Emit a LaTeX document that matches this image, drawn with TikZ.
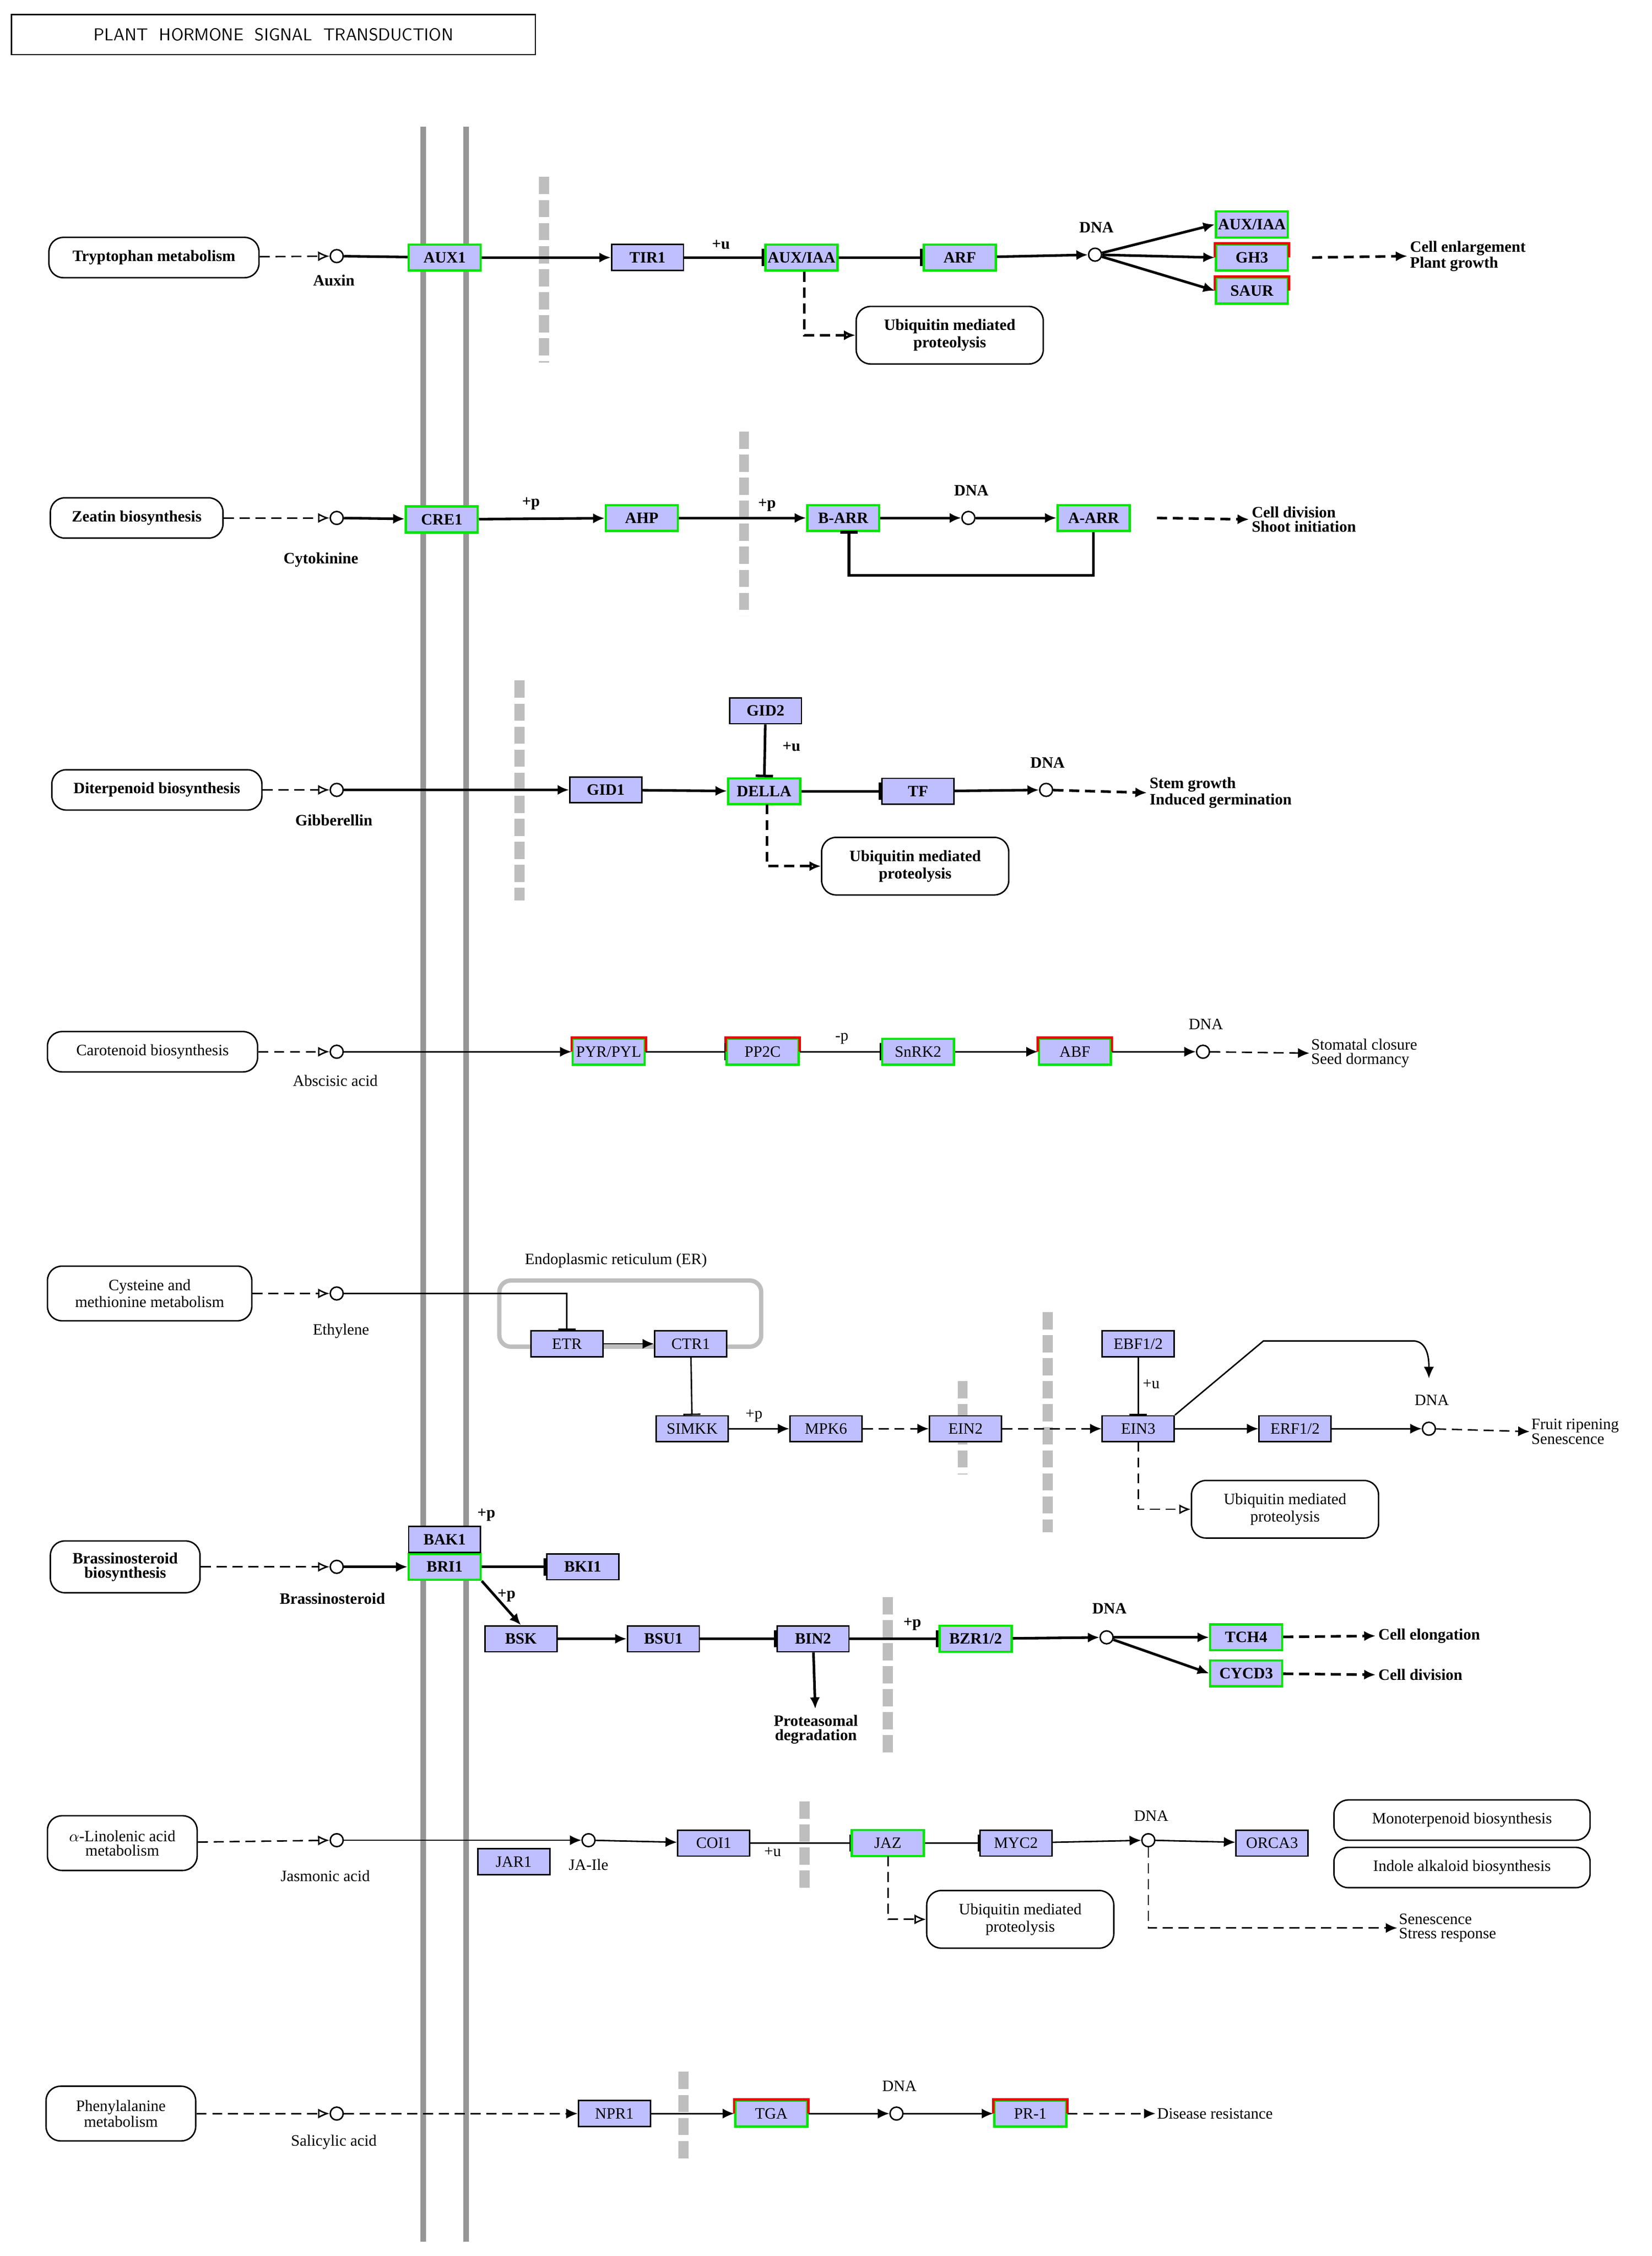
\documentclass[tikz,border=0pt]{standalone}
\usepackage{fontspec}
\setmainfont{Liberation Serif}
\usetikzlibrary{arrows.meta}
\definecolor{gbl}{RGB}{191,191,255}
\definecolor{kgreen}{RGB}{0,230,0}
\definecolor{kred}{RGB}{240,0,0}
\definecolor{mem}{RGB}{150,150,150}
\definecolor{gbar}{RGB}{190,190,190}
\newcommand\myredtop[1]{\draw[kred,line width=1.6] (#1.west)--(#1.north west)--(#1.north east)--(#1.east);}
\begin{document}
\begin{tikzpicture}[x=1pt,y=-1pt,
  every node/.style={font=\fontsize{11}{12}\selectfont},
  gene/.style={draw=black,fill=gbl,minimum width=50,minimum height=18,inner sep=1,line width=1},
  gr/.style={gene,draw=kgreen,line width=1.6},
  rd/.style={gr},
  B/.style={font=\fontsize{11}{12}\selectfont\bfseries},
  map/.style={draw,rounded corners=10,minimum height=28,align=center,inner sep=3,line width=1},
  cpd/.style={circle,draw,minimum size=9,inner sep=0,line width=1},
  lab/.style={inner sep=1},
  txt/.style={align=left,anchor=west,inner sep=1,font=\fontsize{11}{10}\selectfont},
  txtb/.style={txt,font=\fontsize{11}{10}\selectfont\bfseries},
  ds/.style={dash pattern=on 7 off 4},
  ac/.style={-{Latex[length=8,width=7]},line width=1},
  hl/.style={ds,-{Latex[open,length=8,width=7]},line width=1},
  inh/.style={-{Bar[width=12]},line width=1},
  th/.style={line width=1.8},
  gbarS/.style={draw=gbar,line width=7,dash pattern=on 12 off 4}
]
\useasboundingbox[fill=white] (0,0) rectangle (1148,1568);
\node[draw,line width=1,minimum width=364,minimum height=28,font=\sffamily\fontsize{12}{12}\selectfont] (title) at (190,24) {PLANT\ \ HORMONE\ \ SIGNAL\ \ TRANSDUCTION};
% membrane
\draw[mem,line width=4] (294,88) -- (294,1558);
\draw[mem,line width=4] (324,88) -- (324,1558);
% grey bars
\draw[gbarS] (378,123) -- (378,252);
\draw[gbarS] (517,300) -- (517,428);
\draw[gbarS] (361,473) -- (361,626);
\draw[gbarS] (669,960) -- (669,1025);
\draw[gbarS] (728,912) -- (728,1065);
\draw[gbarS] (617,1110) -- (617,1218);
\draw[gbarS] (559,1252) -- (559,1315);
\draw[gbarS] (475,1440) -- (475,1500);

% ---------- Row 1 auxin
\begin{scope}[th,every node/.append style={B}]
\node[map,minimum width=146] (trp) at (107,179) {Tryptophan metabolism};
\node[cpd] (aux) at (234,178) {};
\node[lab] at (232,195) {Auxin};
\node[gr] (aux1) at (309,179) {AUX1};
\node[gene] (tir1) at (450,179) {TIR1};
\node[gr] (iaa) at (557,179) {AUX/IAA};
\node[gr] (arf) at (667,179) {ARF};
\node[cpd] (dna1) at (761,177) {};
\node[lab] at (762,158) {DNA};
\node[gr] (iaa2) at (870,156) {AUX/IAA};
\node[rd] (gh3) at (870,179) {GH3};
\node[rd] (saur) at (870,202) {SAUR};
\myredtop{gh3}\myredtop{saur}
\node[txtb] (out1) at (978,178) {Cell enlargement\\Plant growth};
\node[map,minimum width=130,minimum height=40] (ub1) at (660,233) {Ubiquitin mediated\\proteolysis};
\node[lab] at (501,170) {+u};
\draw[hl] (trp) -- (aux);
\draw (aux) -- (aux1);
\draw[ac,th] (aux1) -- (tir1);
\draw[inh,th] (tir1) -- (iaa);
\draw[inh,th] (iaa) -- (arf);
\draw[ac,th] (arf) -- (dna1);
\draw[ac,th] (dna1) -- (iaa2.west);
\draw[ac,th] (dna1) -- (gh3.west);
\draw[ac,th] (dna1) -- (saur.west);
\draw[ac,th,ds] (gh3.east)+(16,0) -- (out1.west);
\draw[hl,th] (iaa.south) ++(2,0) |- (ub1.west);
\end{scope}

% ---------- Row 2 cytokinin
\begin{scope}[th,every node/.append style={B}]
\node[map,minimum width=120] (zea) at (95,360) {Zeatin biosynthesis};
\node[cpd] (cyt) at (234,360) {};
\node[lab] at (223,389) {Cytokinine};
\node[gr] (cre1) at (307,361) {CRE1};
\node[gr] (ahp) at (446,360) {AHP};
\node[gr] (barr) at (586,360) {B-ARR};
\node[cpd] (dna2) at (673,360) {};
\node[lab] at (675,341) {DNA};
\node[gr] (aarr) at (760,360) {A-ARR};
\node[txtb] (out2) at (868,361) {Cell division\\Shoot initiation};
\node[lab] at (369,350) {+p};
\node[lab] at (533,351) {+p};
\draw[hl] (zea) -- (cyt);
\draw[ac,th] (cyt) -- (cre1);
\draw[ac,th] (cre1) -- (ahp);
\draw[ac,th] (ahp) -- (barr);
\draw[ac,th] (barr) -- (dna2);
\draw[ac,th] (dna2) -- (aarr);
\draw[th,-{Bar[width=12]}] (aarr.south) -- (760,400) -- (590,400) -- (590,369);
\draw[ac,th,ds] (804,360) -- (out2.west);
\end{scope}

% ---------- Row 3 gibberellin
\begin{scope}[th,every node/.append style={B}]
\node[map,minimum width=146] (dit) at (109,549) {Diterpenoid biosynthesis};
\node[cpd] (gib) at (234,549) {};
\node[lab] at (232,570) {Gibberellin};
\node[gene] (gid1) at (421,549) {GID1};
\node[gr] (della) at (531,550) {DELLA};
\node[gene] (gid2) at (532,494) {GID2};
\node[gene] (tf) at (638,550) {TF};
\node[cpd] (dna3) at (727,549) {};
\node[lab] at (728,530) {DNA};
\node[txtb] (out3) at (797,551) {Stem growth\\Induced germination};
\node[map,minimum width=130,minimum height=40] (ub2) at (636,602) {Ubiquitin mediated\\proteolysis};
\node[lab] at (550,519) {+u};
\draw[hl] (dit) -- (gib);
\draw[ac,th] (gib) -- (gid1);
\draw[ac,th] (gid1) -- (della);
\draw[inh,th] (gid2) -- (della);
\draw[inh,th] (della) -- (tf);
\draw[ac,th] (tf) -- (dna3);
\draw[ac,th,ds] (dna3) -- (out3.west);
\draw[hl,th] (533,559) |- (ub2.west);
\end{scope}

% ---------- Row 4 ABA
\node[map,minimum width=146] (car) at (106,731) {Carotenoid biosynthesis};
\node[cpd] (aba) at (234,731) {};
\node[lab] at (233,751) {Abscisic acid};
\node[rd] (pyr) at (423,731) {PYR/PYL};
\node[rd] (pp2c) at (530,731) {PP2C};
\node[gr] (snrk) at (638,731) {SnRK2};
\node[rd] (abf) at (747,731) {ABF};
\myredtop{pyr}\myredtop{pp2c}\myredtop{abf}
\node[cpd] (dna4) at (836,731) {};
\node[lab] at (838,712) {DNA};
\node[txt] (out4) at (910,732) {Stomatal closure\\Seed dormancy};
\node[lab] at (585,722) {-p};
\draw[hl] (car) -- (aba);
\draw[ac] (aba) -- (pyr);
\draw[inh] (pyr) -- (pp2c);
\draw[inh] (pp2c) -- (snrk);
\draw[ac] (snrk) -- (abf);
\draw[ac] (abf) -- (dna4);
\draw[ac,ds] (dna4) -- (out4.west);

% ---------- Row 5 ethylene
\node[map,minimum width=142,minimum height=38] (cys) at (104,899) {Cysteine and\\methionine metabolism};
\node[cpd] (eth) at (234,899) {};
\node[lab] at (237,925) {Ethylene};
\draw[gbar,line width=3,rounded corners=8] (347,890) rectangle (529,936);
\node[lab] at (428,876) {Endoplasmic reticulum (ER)};
\node[gene] (etr) at (394,934) {ETR};
\node[gene] (ctr1) at (480,934) {CTR1};
\node[gene] (simkk) at (481,993) {SIMKK};
\node[gene] (mpk6) at (574,993) {MPK6};
\node[gene] (ein2) at (671,993) {EIN2};
\node[gene] (ebf) at (791,934) {EBF1/2};
\node[gene] (ein3) at (791,993) {EIN3};
\node[gene] (erf) at (900,993) {ERF1/2};
\node[cpd] (dna5) at (993,993) {};
\node[lab] at (995,973) {DNA};
\node[txt] (out5) at (1063,995) {Fruit ripening\\Senescence};
\node[map,minimum width=130,minimum height=40] (ub3) at (893,1049) {Ubiquitin mediated\\proteolysis};
\node[lab] at (524,984) {+p};
\node[lab] at (800,962) {+u};
\draw[hl] (cys) -- (eth);
\draw[inh] (eth) -| (etr);
\draw[ac] (etr) -- (ctr1);
\draw[inh] (ctr1) -- (simkk);
\draw[ac] (simkk) -- (mpk6);
\draw[ac,ds] (mpk6) -- (ein2);
\draw[ac,ds] (ein2) -- (ein3);
\draw[inh] (ebf) -- (ein3);
\draw[ac] (ein3) -- (erf);
\draw[ac] (erf) -- (dna5);
\draw[ac,ds] (dna5) -- (out5.west);
\draw[ac] (ein3.north east) -- (878,932) -- (982,932) to[out=0,in=90] (993,958);
\draw[hl] (791,1002) |- (ub3.west);

% ---------- Row 6 brassinosteroid
\begin{scope}[th,every node/.append style={B}]
\node[map,minimum width=104,minimum height=36,font=\fontsize{11}{10}\selectfont\bfseries] (bra) at (87,1089) {Brassinosteroid\\biosynthesis};
\node[cpd] (brs) at (234,1089) {};
\node[lab] at (231,1111) {Brassinosteroid};
\node[gr] (bri1) at (309,1089) {BRI1};
\node[gene] (bak1) at (309,1070) {BAK1};
\node[gene] (bki1) at (405,1089) {BKI1};
\node[gene] (bsk) at (362,1139) {BSK};
\node[gene] (bsu1) at (461,1139) {BSU1};
\node[gene] (bin2) at (565,1139) {BIN2};
\node[gr] (bzr) at (678,1139) {BZR1/2};
\node[cpd] (dna6) at (769,1138) {};
\node[lab] at (771,1118) {DNA};
\node[gr] (tch4) at (866,1138) {TCH4};
\node[gr] (cycd3) at (866,1163) {CYCD3};
\node[txtb] (out6a) at (956,1137) {Cell elongation};
\node[txtb] (out6b) at (956,1164) {Cell division};
\node[align=center,font=\fontsize{11}{10}\selectfont\bfseries] (prot) at (567,1202) {Proteasomal\\degradation};
\node[lab] at (338,1053) {+p};
\node[lab] at (352,1109) {+p};
\node[lab] at (634,1129) {+p};
\draw[hl] (bra) -- (brs);
\draw[ac,th] (brs) -- (bri1);
\draw[inh,th] (bri1) -- (bki1);
\draw[ac,th] (bri1.south east) -- (bsk.north);
\draw[ac,th] (bsk) -- (bsu1);
\draw[inh,th] (bsu1) -- (bin2);
\draw[ac,th] (bin2) -- (prot);
\draw[inh,th] (bin2) -- (bzr);
\draw[ac,th] (bzr) -- (dna6);
\draw[ac,th] (dna6) -- (tch4);
\draw[ac,th] (dna6) -- (cycd3.west);
\draw[ac,th,ds] (tch4) -- (out6a.west);
\draw[ac,th,ds] (cycd3) -- (out6b.west);
\end{scope}

% ---------- Row 7 jasmonic acid
\node[map,minimum width=104,minimum height=38,font=\fontsize{11}{10}\selectfont] (lin) at (85,1281) {$\alpha$-Linolenic acid\\metabolism};
\node[cpd] (ja) at (234,1279) {};
\node[lab] at (226,1304) {Jasmonic acid};
\node[gene] (jar1) at (357,1294) {JAR1};
\node[cpd] (jaile) at (409,1279) {};
\node[lab] at (409,1296) {JA-Ile};
\node[gene] (coi1) at (496,1281) {COI1};
\node[gr] (jaz) at (617,1281) {JAZ};
\node[gene] (myc2) at (706,1281) {MYC2};
\node[cpd] (dna7) at (798,1279) {};
\node[lab] at (800,1262) {DNA};
\node[gene] (orca3) at (884,1281) {ORCA3};
\node[map,minimum width=178] (mono) at (1016,1265) {Monoterpenoid biosynthesis};
\node[map,minimum width=178] (indo) at (1016,1298) {Indole alkaloid biosynthesis};
\node[txt] (out7) at (971,1340) {Senescence\\Stress response};
\node[map,minimum width=130,minimum height=40] (ub4) at (709,1334) {Ubiquitin mediated\\proteolysis};
\node[lab] at (537,1287) {+u};
\draw[hl] (lin) -- (ja);
\draw[ac] (ja) -- (jaile);
\draw[ac] (jaile) -- (coi1);
\draw[inh] (coi1) -- (jaz);
\draw[inh] (jaz) -- (myc2);
\draw[ac] (myc2) -- (dna7);
\draw[ac] (dna7) -- (orca3);
\draw[ac,ds] (dna7) |- (out7.west);
\draw[hl] (617,1290) |- (ub4.west);

% ---------- Row 8 salicylic acid
\node[map,minimum width=104,minimum height=38,font=\fontsize{11}{10}\selectfont] (phe) at (84,1469) {Phenylalanine\\metabolism};
\node[cpd] (sa) at (234,1469) {};
\node[lab] at (232,1489) {Salicylic acid};
\node[gene] (npr1) at (427,1469) {NPR1};
\node[rd] (tga) at (536,1469) {TGA};
\node[cpd] (dna8) at (623,1469) {};
\node[lab] at (625,1450) {DNA};
\node[rd] (pr1) at (716,1469) {PR-1};
\myredtop{tga}\myredtop{pr1}
\node[txt] (out8) at (803,1469) {Disease resistance};
\draw[hl] (phe) -- (sa);
\draw[ac,ds] (sa) -- (npr1);
\draw[ac] (npr1) -- (tga);
\draw[ac] (tga) -- (dna8);
\draw[ac] (dna8) -- (pr1);
\draw[ac,ds] (pr1) -- (out8.west);
\end{tikzpicture}
\end{document}
